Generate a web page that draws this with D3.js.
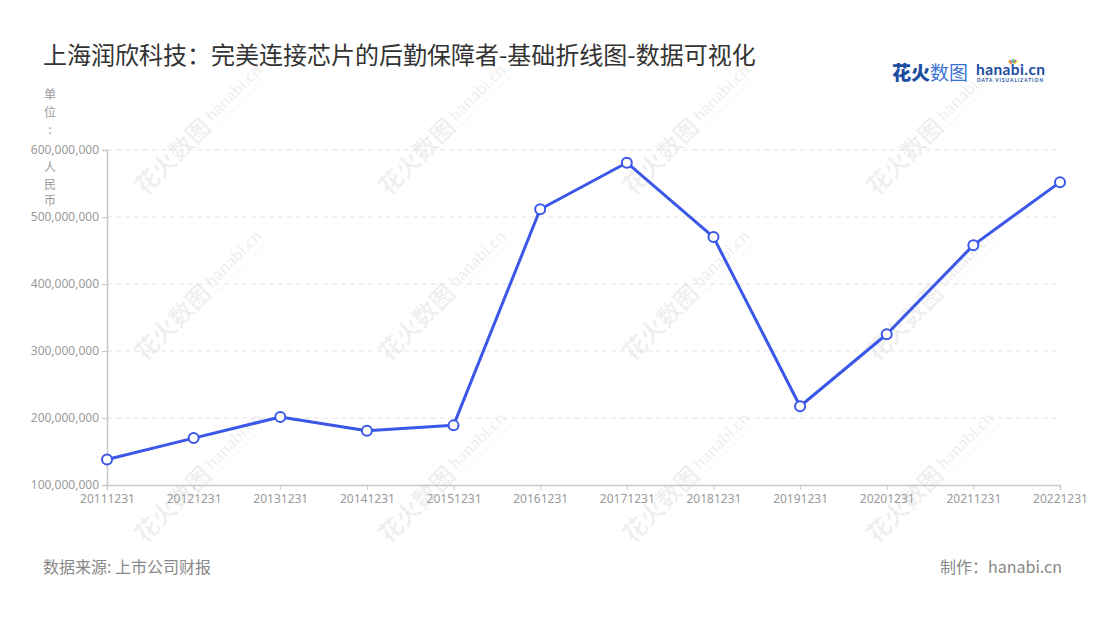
<!DOCTYPE html>
<html>
<head>
<meta charset="utf-8">
<script src="https://cdn.jsdelivr.net/npm/d3@7"></script>
<style>
  body { margin: 0; background: #fff; }
  svg { font-family: "Noto Sans CJK SC", "Noto Sans", sans-serif; display: block; }
</style>
</head>
<body>
<div id="chart"></div>
<script>
// data
var dates = ["20111231", "20121231", "20131231", "20141231", "20151231", "20161231",
             "20171231", "20181231", "20191231", "20201231", "20211231", "20221231"];
var values = [138000000, 170000000, 201500000, 181000000, 189000000, 511500000,
              581000000, 470000000, 217500000, 325000000, 458000000, 552000000];
var yTicks = [100000000, 200000000, 300000000, 400000000, 500000000, 600000000];

var titleText = "上海润欣科技：完美连接芯片的后勤保障者-基础折线图-数据可视化";
var unitChars = ["单", "位", ":", " ", "人", "民", "币"];
var sourceText = "数据来源: 上市公司财报";
var madeByText = "制作：hanabi.cn";

var width = 1100, height = 620;
var margin = { top: 150, right: 40, bottom: 135, left: 107 };

var svg = d3.select("#chart").append("svg")
    .attr("width", width)
    .attr("height", height);

var x = d3.scalePoint()
    .domain(dates)
    .range([margin.left, width - margin.right]);

var y = d3.scaleLinear()
    .domain([100000000, 600000000])
    .range([height - margin.bottom, margin.top]);

// watermark tiles
var wm = svg.append("g").attr("class", "watermark");
[147, 313, 495].forEach(function(cy) {
    [183, 427, 671, 915].forEach(function(cx) {
        var g = wm.append("g")
            .attr("transform", "translate(" + cx + "," + cy + ") rotate(-45)")
            .attr("fill", "#000")
            .attr("fill-opacity", 0.065);
        g.append("text")
            .attr("x", -62).attr("y", 8)
            .attr("font-size", 24).attr("font-weight", 700)
            .text("花火数图");
        g.append("text")
            .attr("x", 38).attr("y", 3)
            .attr("font-size", 17).attr("font-weight", 700)
            .attr("font-family", "Lato, sans-serif")
            .text("hanabi.cn");
        g.append("text")
            .attr("x", 40).attr("y", 11)
            .attr("font-size", 5).attr("font-weight", 700)
            .attr("letter-spacing", 1)
            .text("DATA VISUALIZATION");
    });
});

// title
svg.append("text")
    .attr("x", 43).attr("y", 64)
    .attr("font-size", 24)
    .attr("fill", "#333")
    .text(titleText);

// logo
var logo = svg.append("g");
logo.append("text")
    .attr("x", 892).attr("y", 80)
    .attr("font-size", 19)
    .attr("fill", "#1c4da1")
    .attr("font-weight", 900)
    .text("花火");
logo.append("text")
    .attr("x", 930).attr("y", 80)
    .attr("font-size", 19)
    .attr("fill", "#3b72d4")
    .attr("font-weight", 400)
    .text("数图");
logo.append("text")
    .attr("x", 976).attr("y", 75)
    .attr("font-size", 15.5)
    .attr("font-weight", 700)
    .attr("letter-spacing", 0.4)
    .attr("font-family", "Lato, sans-serif")
    .attr("fill", "#1c4da1")
    .text("hanabi.cn");
logo.append("text")
    .attr("x", 977).attr("y", 82)
    .attr("font-size", 4.8)
    .attr("font-weight", 700)
    .attr("letter-spacing", 1)
    .attr("font-family", "Lato, sans-serif")
    .attr("fill", "#1c4da1")
    .text("DATA VISUALIZATION");
var starColors = ["#f5a623", "#e94e77", "#4fc3f7", "#7ed321", "#9b59b6", "#f8e71c"];
starColors.forEach(function(c, i) {
    var a = -Math.PI / 2 + (i - 2.5) * 0.35;
    logo.append("line")
        .attr("x1", 1013 + Math.cos(a) * 2).attr("y1", 65 + Math.sin(a) * 2)
        .attr("x2", 1013 + Math.cos(a) * 6).attr("y2", 65 + Math.sin(a) * 6)
        .attr("stroke", c).attr("stroke-width", 1.5);
});

// grid
svg.append("g")
    .selectAll("line")
    .data(yTicks.slice(1))
    .enter().append("line")
    .attr("x1", margin.left)
    .attr("x2", width - margin.right)
    .attr("y1", function(d) { return y(d); })
    .attr("y2", function(d) { return y(d); })
    .attr("stroke", "#e3e3e3")
    .attr("stroke-width", 1)
    .attr("stroke-dasharray", "5,4");

// axes
var yAxis = d3.axisLeft(y)
    .tickValues(yTicks)
    .tickSize(5)
    .tickPadding(3)
    .tickFormat(d3.format(","));

var gy = svg.append("g")
    .attr("transform", "translate(" + margin.left + ",0)")
    .call(yAxis);

var xAxis = d3.axisBottom(x)
    .tickSize(5)
    .tickPadding(4);

var gx = svg.append("g")
    .attr("transform", "translate(0," + (height - margin.bottom) + ")")
    .call(xAxis);

[gx, gy].forEach(function(g) {
    g.select(".domain").attr("stroke", "#c8c8c8").attr("stroke-width", 1.5);
    g.selectAll(".tick line").attr("stroke", "#c8c8c8");
    g.selectAll(".tick text")
        .attr("fill", "#9a9a9a")
        .attr("font-size", 12)
        .attr("font-family", "\"Noto Sans\", sans-serif");
});

// unit label, stacked vertically (the blank slot sits behind the 600M tick label)
svg.append("g")
    .selectAll("text")
    .data(unitChars)
    .enter().append("text")
    .attr("x", 50)
    .attr("y", function(d, i) { return i < 4 ? 99 + i * 17.5 : 172 + (i - 4) * 16.5; })
    .attr("text-anchor", "middle")
    .attr("font-size", 12)
    .attr("fill", "#9a9a9a")
    .text(function(d) { return d; });

// line
var line = d3.line()
    .x(function(d, i) { return x(dates[i]); })
    .y(function(d) { return y(d); });

svg.append("path")
    .datum(values)
    .attr("fill", "none")
    .attr("stroke", "#3a57e8")
    .attr("stroke-width", 3)
    .attr("stroke-linejoin", "round")
    .attr("d", line);

svg.append("g")
    .selectAll("circle")
    .data(values)
    .enter().append("circle")
    .attr("cx", function(d, i) { return x(dates[i]); })
    .attr("cy", function(d) { return y(d); })
    .attr("r", 5)
    .attr("fill", "#fff")
    .attr("stroke", "#3a57e8")
    .attr("stroke-width", 2);

// footer
svg.append("text")
    .attr("x", 43).attr("y", 573)
    .attr("font-size", 16)
    .attr("fill", "#888")
    .text(sourceText);

svg.append("text")
    .attr("x", 1062).attr("y", 573)
    .attr("text-anchor", "end")
    .attr("font-size", 16)
    .attr("fill", "#888")
    .text(madeByText);
</script>
</body>
</html>
